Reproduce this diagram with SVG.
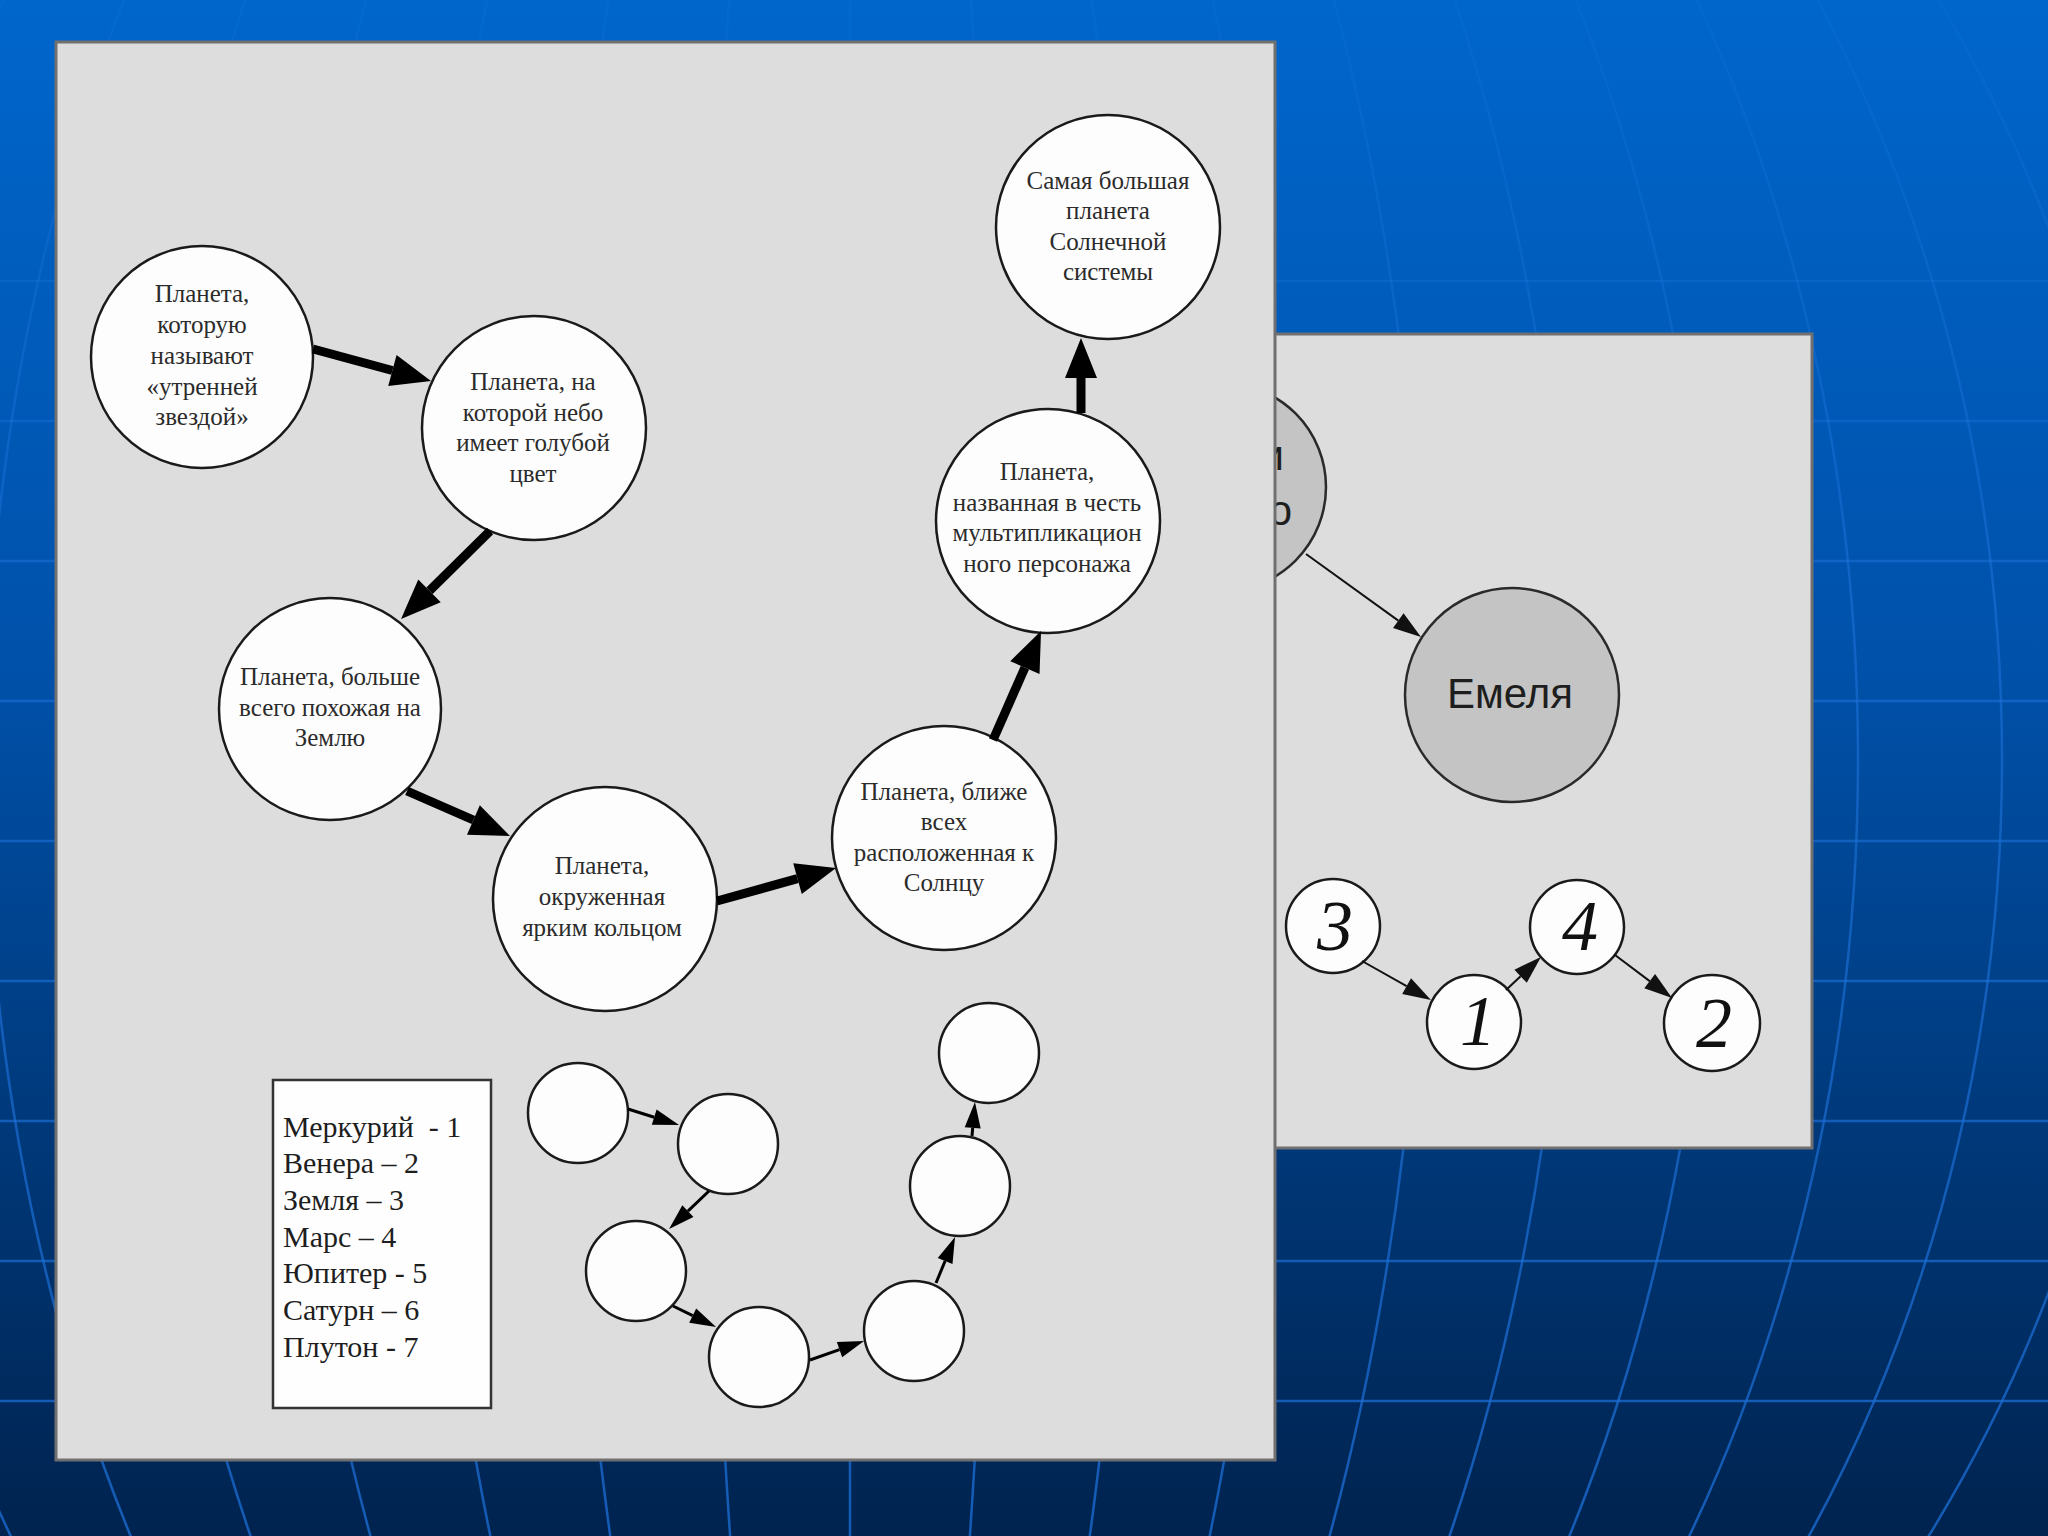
<svg xmlns="http://www.w3.org/2000/svg" width="2048" height="1536" viewBox="0 0 2048 1536">
<defs>
<linearGradient id="bg" x1="0" y1="0" x2="0" y2="1">
<stop offset="0" stop-color="#0066cc"/>
<stop offset="0.45" stop-color="#0050a8"/>
<stop offset="1" stop-color="#00234f"/>
</linearGradient>
<linearGradient id="gridgrad" gradientUnits="userSpaceOnUse" x1="0" y1="0" x2="0" y2="1536">
<stop offset="0" stop-color="#1d74dc" stop-opacity="0.15"/>
<stop offset="0.4" stop-color="#1d72da" stop-opacity="0.55"/>
<stop offset="1" stop-color="#1a6ad0" stop-opacity="0.8"/>
</linearGradient>
<marker id="big" markerUnits="userSpaceOnUse" markerWidth="40" markerHeight="32" refX="0" refY="16" orient="auto" overflow="visible"><path d="M0,0 L40,16 L0,32 z" fill="#000"/></marker>
<marker id="small" markerUnits="userSpaceOnUse" markerWidth="26" markerHeight="16" refX="0" refY="8" orient="auto" overflow="visible"><path d="M0,0 L26,8 L0,16 z" fill="#000"/></marker>
<marker id="back" markerUnits="userSpaceOnUse" markerWidth="28" markerHeight="18" refX="0" refY="9" orient="auto" overflow="visible"><path d="M0,0 L28,9 L0,18 z" fill="#111"/></marker>
<style>
.grid{fill:none;stroke:url(#gridgrad);stroke-width:2.5}
.panel{fill:#dddddd;stroke:#707070;stroke-width:3}
.node{fill:#fdfdfd;stroke:#1a1a1a;stroke-width:2.5}
.gnode{fill:#c4c4c4;stroke:#2a2a2a;stroke-width:2.5}
.t{font-family:"Liberation Serif","Times New Roman",serif;font-size:25px;fill:#2b2b2b;text-anchor:middle}
.leg{font-family:"Liberation Serif","Times New Roman",serif;font-size:30px;fill:#1e1e1e}
.num{font-family:"Liberation Serif","Times New Roman",serif;font-style:italic;font-size:72px;fill:#111;text-anchor:middle}
.sans{font-family:"Liberation Sans",Arial,sans-serif;font-size:42px;fill:#1e1e1e;text-anchor:middle}
.thick{stroke:#000;stroke-width:9;fill:none;marker-end:url(#big)}
.thin{stroke:#000;stroke-width:3;fill:none;marker-end:url(#small)}
.bthin{stroke:#111;stroke-width:2;fill:none;marker-end:url(#back)}
</style>
</defs>
<g id="background">
<rect x="0" y="0" width="2048" height="1536" fill="url(#bg)"/>
<g class="grid">
<line x1="0" y1="281" x2="2048" y2="281"/>
<line x1="0" y1="421" x2="2048" y2="421"/>
<line x1="0" y1="561" x2="2048" y2="561"/>
<line x1="0" y1="701" x2="2048" y2="701"/>
<line x1="0" y1="841" x2="2048" y2="841"/>
<line x1="0" y1="981" x2="2048" y2="981"/>
<line x1="0" y1="1121" x2="2048" y2="1121"/>
<line x1="0" y1="1261" x2="2048" y2="1261"/>
<line x1="0" y1="1401" x2="2048" y2="1401"/>
<line x1="850" y1="0" x2="850" y2="1536"/>
<ellipse cx="850" cy="760" rx="144" ry="1400"/>
<ellipse cx="850" cy="760" rx="288" ry="1400"/>
<ellipse cx="850" cy="760" rx="432" ry="1400"/>
<ellipse cx="850" cy="760" rx="576" ry="1400"/>
<ellipse cx="850" cy="760" rx="720" ry="1400"/>
<ellipse cx="850" cy="760" rx="864" ry="1400"/>
<ellipse cx="850" cy="760" rx="1008" ry="1400"/>
<ellipse cx="850" cy="760" rx="1152" ry="1400"/>
<ellipse cx="850" cy="760" rx="1296" ry="1400"/>
</g>
</g>
<g id="back-panel">
<rect class="panel" x="1150" y="334" width="662" height="814"/>
<g id="node-hidden">
<circle class="gnode" cx="1222" cy="487" r="104"/>
<text class="sans" x="1284" y="470" style="text-anchor:end">и</text>
<text class="sans" x="1292" y="525" style="text-anchor:end">о</text>
</g>
<g id="node-emelya">
<circle class="gnode" cx="1512" cy="695" r="107"/>
<text class="sans" x="1510" y="708">Емеля</text>
</g>
<g id="node-n3"><circle class="node" cx="1333" cy="926" r="47"/><text class="num" x="1335" y="950">3</text></g>
<g id="node-n1"><circle class="node" cx="1474" cy="1022" r="47"/><text class="num" x="1478" y="1045">1</text></g>
<g id="node-n4"><circle class="node" cx="1577" cy="927" r="47"/><text class="num" x="1580" y="950">4</text></g>
<g id="node-n2"><circle class="node" cx="1712" cy="1023" r="48"/><text class="num" x="1714" y="1047">2</text></g>
</g>
<g id="main-panel">
<rect class="panel" x="56" y="42" width="1219" height="1418"/>
</g>
<g id="node-venus">
<circle class="node" cx="202" cy="357" r="111"/>
<text class="t" x="202" y="302">Планета,</text>
<text class="t" x="202" y="333">которую</text>
<text class="t" x="202" y="364">называют</text>
<text class="t" x="202" y="395">«утренней</text>
<text class="t" x="202" y="425">звездой»</text>
</g>
<g id="node-blue-sky">
<circle class="node" cx="534" cy="428" r="112"/>
<text class="t" x="533" y="390">Планета, на</text>
<text class="t" x="533" y="421">которой небо</text>
<text class="t" x="533" y="451">имеет голубой</text>
<text class="t" x="533" y="482">цвет</text>
</g>
<g id="node-earthlike">
<circle class="node" cx="330" cy="709" r="111"/>
<text class="t" x="330" y="685">Планета, больше</text>
<text class="t" x="330" y="716">всего похожая на</text>
<text class="t" x="330" y="746">Землю</text>
</g>
<g id="node-ring">
<circle class="node" cx="605" cy="899" r="112"/>
<text class="t" x="602" y="874">Планета,</text>
<text class="t" x="602" y="905">окруженная</text>
<text class="t" x="602" y="936">ярким кольцом</text>
</g>
<g id="node-closest">
<circle class="node" cx="944" cy="838" r="112"/>
<text class="t" x="944" y="800">Планета, ближе</text>
<text class="t" x="944" y="830">всех</text>
<text class="t" x="944" y="861">расположенная к</text>
<text class="t" x="944" y="891">Солнцу</text>
</g>
<g id="node-cartoon">
<circle class="node" cx="1048" cy="521" r="112"/>
<text class="t" x="1047" y="480">Планета,</text>
<text class="t" x="1047" y="511">названная в честь</text>
<text class="t" x="1047" y="541">мультипликацион</text>
<text class="t" x="1047" y="572">ного персонажа</text>
</g>
<g id="node-largest">
<circle class="node" cx="1108" cy="227" r="112"/>
<text class="t" x="1108" y="189">Самая большая</text>
<text class="t" x="1108" y="219">планета</text>
<text class="t" x="1108" y="250">Солнечной</text>
<text class="t" x="1108" y="280">системы</text>
</g>
<g id="legend">
<rect x="273" y="1080" width="218" height="328" fill="#fefefe" stroke="#333" stroke-width="2.5"/>
<text class="leg" x="283" y="1137" xml:space="preserve">Меркурий  - 1</text>
<text class="leg" x="283" y="1173">Венера – 2</text>
<text class="leg" x="283" y="1210">Земля – 3</text>
<text class="leg" x="283" y="1247">Марс – 4</text>
<text class="leg" x="283" y="1283">Юпитер - 5</text>
<text class="leg" x="283" y="1320">Сатурн – 6</text>
<text class="leg" x="283" y="1357">Плутон - 7</text>
</g>
<g id="node-e1"><circle class="node" cx="578" cy="1113" r="50"/></g>
<g id="node-e2"><circle class="node" cx="728" cy="1144" r="50"/></g>
<g id="node-e3"><circle class="node" cx="636" cy="1271" r="50"/></g>
<g id="node-e4"><circle class="node" cx="759" cy="1357" r="50"/></g>
<g id="node-e5"><circle class="node" cx="914" cy="1331" r="50"/></g>
<g id="node-e6"><circle class="node" cx="960" cy="1186" r="50"/></g>
<g id="node-e7"><circle class="node" cx="989" cy="1053" r="50"/></g>
<g id="connectors">
<line class="thick" x1="313" y1="349" x2="392.4" y2="370.5"/>
<line class="thick" x1="490" y1="531" x2="429.5" y2="590.8"/>
<line class="thick" x1="407" y1="791" x2="473.4" y2="820"/>
<line class="thick" x1="717" y1="901" x2="797.5" y2="878.7"/>
<line class="thick" x1="993" y1="740" x2="1024.9" y2="667.6"/>
<line class="thick" x1="1081" y1="413" x2="1081" y2="378"/>
<line class="thin" x1="628" y1="1109" x2="654.2" y2="1117.2"/>
<line class="thin" x1="709" y1="1191" x2="687.9" y2="1211.1"/>
<line class="thin" x1="673" y1="1306" x2="692.7" y2="1315.6"/>
<line class="thin" x1="810" y1="1360" x2="839.5" y2="1349.6"/>
<line class="thin" x1="936" y1="1283" x2="945.1" y2="1261"/>
<line class="thin" x1="972" y1="1136" x2="972.7" y2="1127.9"/>
<line class="bthin" x1="1306" y1="554" x2="1398.3" y2="620.6"/>
<line class="bthin" x1="1362" y1="961" x2="1406.6" y2="986.2"/>
<line class="bthin" x1="1506" y1="990" x2="1520.6" y2="976.2"/>
<line class="bthin" x1="1615" y1="955" x2="1649.7" y2="981.1"/>
</g>
</svg>
